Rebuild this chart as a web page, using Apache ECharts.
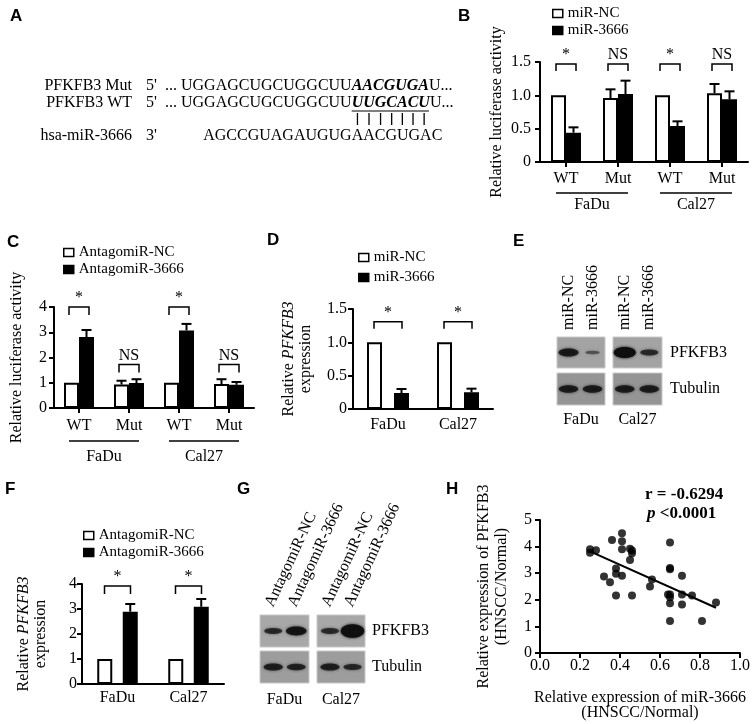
<!DOCTYPE html>
<html><head><meta charset="utf-8">
<script src="https://cdn.jsdelivr.net/npm/echarts@6/dist/echarts.min.js"></script>
<style>html,body{margin:0;padding:0;background:#fff;}#chart{width:753px;height:724px;}</style>
</head><body>
<div id="chart"></div>
<script>
// ---------------- data ----------------
// Panel A
const seqLabels = ['PFKFB3 Mut', 'PFKFB3 WT', 'hsa-miR-3666'];
const seqEnds = ["5'", "5'", "3'"];
const seqPrefix = '... UGGAGCUGCUGGCUU';
const seqSite = ['AACGUGA', 'UUGCACU'];
const seqSuffix = 'U...';
const mirSeq = 'AGCCGUAGAUGUGAACGUGAC';
const mirPairOffset = 13;

// Panel B
const bCats = ['WT', 'Mut', 'WT', 'Mut'];
const bGroups = ['FaDu', 'Cal27'];
const bNC = [1.0, 0.96, 1.0, 1.03];
const bNCErr = [0, 0.13, 0, 0.14];
const bMiR = [0.44, 1.02, 0.54, 0.94];
const bMiRErr = [0.08, 0.20, 0.07, 0.12];
const bSig = ['*', 'NS', '*', 'NS'];
const bSigLevel = [1.47, 1.47, 1.47, 1.47];

// Panel C
const cCats = ['WT', 'Mut', 'WT', 'Mut'];
const cGroups = ['FaDu', 'Cal27'];
const cNC = [1.0, 0.93, 1.0, 0.95];
const cNCErr = [0, 0.15, 0, 0.19];
const cAnta = [2.81, 0.99, 3.07, 0.92];
const cAntaErr = [0.28, 0.15, 0.26, 0.11];
const cSig = ['*', 'NS', '*', 'NS'];
const cSigLevel = [4.0, 1.72, 4.0, 1.72];

// Panel D
const dCats = ['FaDu', 'Cal27'];
const dNC = [1.0, 1.0];
const dMiR = [0.24, 0.25];
const dMiRErr = [0.06, 0.055];
const dSig = ['*', '*'];
const dSigLevel = [1.31, 1.31];

// Panel E
const eLanes = ['miR-NC', 'miR-3666', 'miR-NC', 'miR-3666'];
const eCells = ['FaDu', 'Cal27'];
const eProteins = ['PFKFB3', 'Tubulin'];
const eBandPFK = [0.8, 0.25, 1.0, 0.6];
const eBandTub = [0.75, 0.75, 0.75, 0.75];

// Panel F
const fCats = ['FaDu', 'Cal27'];
const fNC = [1.0, 1.0];
const fAnta = [2.89, 3.09];
const fAntaErr = [0.31, 0.31];
const fSig = ['*', '*'];
const fSigLevel = [3.92, 3.92];

// Panel G
const gLanes = ['AntagomiR-NC', 'AntagomiR-3666', 'AntagomiR-NC', 'AntagomiR-3666'];
const gCells = ['FaDu', 'Cal27'];
const gProteins = ['PFKFB3', 'Tubulin'];
const gBandPFK = [0.6, 0.85, 0.6, 1.15];
const gBandTub = [0.72, 0.68, 0.72, 0.62];

// Panel H
const hPoints = [
  [0.25, 3.90], [0.25, 3.77], [0.28, 3.86], [0.32, 2.88], [0.35, 2.66], [0.36, 4.25],
  [0.38, 3.18], [0.38, 2.98], [0.38, 2.16], [0.41, 4.50], [0.41, 4.20], [0.41, 3.90],
  [0.41, 2.90], [0.45, 3.92], [0.45, 3.50], [0.46, 3.85], [0.46, 3.75], [0.46, 2.16],
  [0.55, 2.50], [0.56, 2.76], [0.64, 2.20], [0.65, 4.15], [0.65, 3.20], [0.65, 3.15],
  [0.65, 2.20], [0.65, 2.10], [0.65, 1.87], [0.65, 1.20], [0.71, 2.90], [0.71, 2.20],
  [0.71, 1.82], [0.76, 2.16], [0.81, 1.20], [0.88, 1.90]
];
const hFit = [[0.25, 3.82], [0.88, 1.70]];
const hStatR = 'r = -0.6294';
const hStatP = ['p', ' <0.0001'];

const panelLetters = ['A', 'B', 'C', 'D', 'E', 'F', 'G', 'H'];

// ---------------- drawing ----------------
const FF = '"Liberation Serif","Times New Roman",serif';
const SANS = '"Liberation Sans",Arial,sans-serif';
const fN = '16px ' + FF;
const fBI = 'italic bold 16px ' + FF;

const mctx = document.createElement('canvas').getContext('2d');
function tw(t, font) { mctx.font = font; return mctx.measureText(t).width; }

function txt(t, x, y, font, align, vAlign, extra) {
  return Object.assign({
    type: 'text', x: x, y: y, silent: true,
    style: { text: t, font: font, fill: '#000', align: align, verticalAlign: vAlign, textAlign: align, textVerticalAlign: vAlign }
  }, extra || {});
}
function ln(x1, y1, x2, y2, w) {
  return { type: 'line', silent: true, shape: { x1, y1, x2, y2 }, style: { stroke: '#000', lineWidth: w || 1.5 } };
}

const graphics = [];

// panel letters
const letterPos = [[10, 8], [458, 8], [7, 234], [267, 232], [513, 233], [5, 481], [237, 481], [446, 481]];
panelLetters.forEach((L, i) => graphics.push(txt(L, letterPos[i][0], letterPos[i][1], 'bold 17px ' + SANS, 'left', 'top')));

// Panel A sequences
(function () {
  const xLab = 132, x5 = 146, xSeq = 165;
  const rowY = [86, 103, 119, 136];
  const wPre = tw(seqPrefix, fN);
  const siteX = xSeq + wPre;
  for (let r = 0; r < 2; r++) {
    graphics.push(txt(seqLabels[r], xLab, rowY[r], fN, 'right', 'middle'));
    graphics.push(txt(seqEnds[r], x5, rowY[r], fN, 'left', 'middle'));
    graphics.push(txt(seqPrefix, xSeq, rowY[r], fN, 'left', 'middle'));
    graphics.push(txt(seqSite[r], siteX, rowY[r], fBI, 'left', 'middle'));
    graphics.push(txt(seqSuffix, siteX + tw(seqSite[r], fBI), rowY[r], fN, 'left', 'middle'));
  }
  // underline WT site
  const wSite = tw(seqSite[1], fBI);
  graphics.push(ln(siteX, rowY[1] + 8, siteX + wSite - 1, rowY[1] + 8, 1.2));
  // pairing bars
  for (let k = 0; k < seqSite[1].length; k++) {
    const cx = siteX + tw(seqSite[1].slice(0, k), fBI) + tw(seqSite[1][k], fBI) / 2;
    graphics.push(ln(cx, rowY[2] - 6, cx, rowY[2] + 6, 1.3));
  }
  graphics.push(txt(seqLabels[2], xLab, rowY[3], fN, 'right', 'middle'));
  graphics.push(txt(seqEnds[2], x5, rowY[3], fN, 'left', 'middle'));
  const mirX = siteX - tw(mirSeq.slice(0, mirPairOffset), fN);
  graphics.push(txt(mirSeq, mirX, rowY[3], fN, 'left', 'middle'));
})();

// Western blots
function band(cx, cy, s) {
  const rx = 6 + 5 * s, ry = 1.5 + 4 * s * s;
  const a = Math.min(1, 0.3 + 0.7 * s);
  const col = 'rgba(15,15,15,' + a.toFixed(2) + ')';
  return { type: 'ellipse', silent: true, shape: { cx, cy, rx, ry }, style: { fill: col, shadowBlur: 3, shadowColor: col } };
}
function blotPanel(cfg) {
  // cfg: blots [{x,w}], rows [{y,h,bg}], laneFrac, bands [pfk[], tub[]], labels, proteins, cells
  cfg.blots.forEach((b, bi) => {
    cfg.rows.forEach((r, ri) => {
      graphics.push({ type: 'rect', silent: true, shape: { x: b.x, y: r.y, width: b.w, height: r.h },
        style: { fill: r.bg, stroke: '#c8c8c8', lineWidth: 1 } });
      const vals = cfg.bands[ri];
      cfg.laneFrac.forEach((f, li) => {
        const lane = bi * 2 + li;
        graphics.push(band(b.x + b.w * f, r.y + r.h / 2, vals[lane]));
      });
    });
  });
}

// Panel E
(function () {
  const blots = [{ x: 557, w: 48 }, { x: 613, w: 49 }];
  const rows = [{ y: 337, h: 31, bg: '#a3a3a3' }, { y: 373, h: 32, bg: '#959595' }];
  const laneFrac = [0.24, 0.74];
  blotPanel({ blots, rows, laneFrac, bands: [eBandPFK, eBandTub] });
  eLanes.forEach((t, i) => {
    const b = blots[Math.floor(i / 2)];
    const x = b.x + b.w * laneFrac[i % 2];
    graphics.push(txt(t, x, 330, fN, 'left', 'middle', { rotation: Math.PI / 2 }));
  });
  eProteins.forEach((p, i) => graphics.push(txt(p, 670, rows[i].y + rows[i].h / 2, fN, 'left', 'middle')));
  eCells.forEach((c, i) => graphics.push(txt(c, blots[i].x + blots[i].w / 2, 420, fN, 'center', 'middle')));
})();

// Panel G
(function () {
  const blots = [{ x: 260, w: 49 }, { x: 317, w: 48 }];
  const rows = [{ y: 615, h: 32, bg: '#a8a8a8' }, { y: 651, h: 32, bg: '#9d9d9d' }];
  const laneFrac = [0.27, 0.74];
  blotPanel({ blots, rows, laneFrac, bands: [gBandPFK, gBandTub] });
  gLanes.forEach((t, i) => {
    const b = blots[Math.floor(i / 2)];
    const x = b.x + b.w * laneFrac[i % 2];
    graphics.push(txt(t, x - 4, 606, fN, 'left', 'middle', { rotation: 65 * Math.PI / 180 }));
  });
  gProteins.forEach((p, i) => graphics.push(txt(p, 372, rows[i].y + rows[i].h / 2, fN, 'left', 'middle')));
  gCells.forEach((c, i) => graphics.push(txt(c, blots[i].x + blots[i].w / 2, 700, fN, 'center', 'middle')));
})();

// Panel H stats
(function () {
  const fB = 'bold 17px ' + FF;
  const fBIt = 'italic bold 17px ' + FF;
  graphics.push(txt(hStatR, 645, 495, fB, 'left', 'middle'));
  graphics.push(txt(hStatP[0], 647, 514, fBIt, 'left', 'middle'));
  graphics.push(txt(hStatP[1], 647 + tw(hStatP[0], fBIt), 514, fB, 'left', 'middle'));
})();

// ---------- chart helpers ----------
function baseAxis(extra) {
  return Object.assign({
    axisLine: { show: true, onZero: false, lineStyle: { color: '#000', width: 2 } },
    axisTick: { show: true, length: 5, lineStyle: { color: '#000', width: 2 } },
    axisLabel: { color: '#000', fontFamily: FF, fontSize: 16 },
    splitLine: { show: false }
  }, extra);
}
function catX(gi, cats, margin, ticks) {
  const a = baseAxis({ gridIndex: gi, type: 'category', data: cats });
  a.axisTick = { show: ticks, alignWithLabel: true, length: 5, lineStyle: { color: '#000', width: 2 } };
  a.axisLabel.margin = margin;
  return a;
}
function valY(gi, max, interval, name, nameGap, margin, fmt, lineH) {
  const a = baseAxis({ gridIndex: gi, type: 'value', min: 0, max: max, interval: interval });
  a.axisLabel.margin = margin;
  if (fmt) a.axisLabel.formatter = fmt;
  a.name = name; a.nameLocation = 'middle'; a.nameGap = nameGap; a.nameRotate = 90;
  a.nameTextStyle = { color: '#000', fontFamily: FF, fontSize: 16, lineHeight: lineH || 17,
    rich: { i: { fontStyle: 'italic', fontFamily: FF, fontSize: 16, color: '#000', lineHeight: lineH || 17 } } };
  return a;
}
const dec1 = v => (v === 0 ? '0' : v.toFixed(1));

function barSeries(name, gi, data, white, gap) {
  return { type: 'bar', name, xAxisIndex: gi, yAxisIndex: gi, data, barWidth: 15, barGap: gap,
    itemStyle: { color: white ? '#fff' : '#000', borderColor: '#000', borderWidth: 2 }, silent: true, z: 2 };
}
function errSeries(gi, vals, errs, offsetPx, capHalf) {
  return {
    type: 'custom', xAxisIndex: gi, yAxisIndex: gi, silent: true, z: 3,
    data: vals.map((v, i) => [i, v, v + errs[i]]),
    renderItem(params, api) {
      if (!(api.value(2) > api.value(1))) return null;
      const i = api.value(0);
      const lo = api.coord([i, api.value(1)]);
      const hi = api.coord([i, api.value(2)]);
      const x = lo[0] + offsetPx;
      return { type: 'group', children: [
        { type: 'line', shape: { x1: x, y1: lo[1], x2: x, y2: hi[1] }, style: { stroke: '#000', lineWidth: 2 } },
        { type: 'line', shape: { x1: x - capHalf, y1: hi[1], x2: x + capHalf, y2: hi[1] }, style: { stroke: '#000', lineWidth: 2 } }
      ] };
    }
  };
}
function sigSeries(gi, levels, labels, halfSpan, legPx) {
  return {
    type: 'custom', xAxisIndex: gi, yAxisIndex: gi, silent: true, z: 4,
    data: levels.map((l, i) => [i, l]),
    renderItem(params, api) {
      const p = api.coord([api.value(0), api.value(1)]);
      const lab = labels[params.dataIndex];
      const x1 = p[0] - halfSpan, x2 = p[0] + halfSpan, y = p[1];
      return { type: 'group', children: [
        { type: 'polyline', shape: { points: [[x1, y + legPx], [x1, y], [x2, y], [x2, y + legPx]] },
          style: { stroke: '#000', lineWidth: 1.5, fill: null } },
        { type: 'text', x: p[0], y: y - 1,
          style: { text: lab, font: '16px ' + FF, fill: '#000', align: 'center', verticalAlign: 'bottom', textAlign: 'center', textVerticalAlign: 'bottom' } }
      ] };
    }
  };
}
function groupSeries(gi, groups, lineOff, textOff, ext) {
  return {
    type: 'custom', xAxisIndex: gi, yAxisIndex: gi, silent: true, z: 4,
    data: groups.map((g, k) => [2 * k, 2 * k + 1]),
    renderItem(params, api) {
      const a = api.coord([api.value(0), 0]);
      const b = api.coord([api.value(1), 0]);
      const y0 = a[1];
      return { type: 'group', children: [
        { type: 'line', shape: { x1: a[0] - ext, y1: y0 + lineOff, x2: b[0] + ext, y2: y0 + lineOff }, style: { stroke: '#000', lineWidth: 1.3 } },
        { type: 'text', x: (a[0] + b[0]) / 2, y: y0 + textOff,
          style: { text: groups[params.dataIndex], font: '16px ' + FF, fill: '#000', align: 'center', verticalAlign: 'middle', textAlign: 'center', textVerticalAlign: 'middle' } }
      ] };
    }
  };
}
function legendAt(left, top, names, gap) {
  return { left, top, orient: 'vertical', padding: 0, itemGap: gap, itemWidth: 10, itemHeight: 8, icon: 'rect',
    selectedMode: false, data: names,
    itemStyle: { borderColor: '#000', borderWidth: 1.5 },
    textStyle: { fontFamily: FF, fontSize: 15, color: '#000', lineHeight: 15, padding: [0, 0, 0, 0] } };
}

const hX = baseAxis({ gridIndex: 4, type: 'value', min: 0, max: 1, interval: 0.2 });
hX.axisLabel.formatter = v => v.toFixed(1);
hX.axisLabel.margin = 5;
hX.name = 'Relative expression of miR-3666\n(HNSCC/Normal)';
hX.nameLocation = 'middle'; hX.nameGap = 37;
hX.nameTextStyle = { color: '#000', fontFamily: FF, fontSize: 16, lineHeight: 15 };

const option = {
  animation: false,
  backgroundColor: '#fff',
  textStyle: { fontFamily: FF },
  grid: [
    { left: 540, top: 62, width: 208, height: 100 },
    { left: 54, top: 307, width: 200, height: 101 },
    { left: 353, top: 309, width: 140, height: 100 },
    { left: 82, top: 584, width: 142, height: 100 },
    { left: 540, top: 520, width: 202, height: 133 }
  ],
  xAxis: [
    catX(0, bCats, 9, true),
    catX(1, cCats, 10, true),
    catX(2, dCats, 8, false),
    catX(3, fCats, 6, false),
    hX
  ],
  yAxis: [
    valY(0, 1.5, 0.5, 'Relative luciferase activity', 35, 9, dec1),
    valY(1, 4, 1, 'Relative luciferase activity', 29, 7),
    valY(2, 1.5, 0.5, 'Relative {i|PFKFB3}\nexpression', 39, 6, dec1),
    valY(3, 4, 1, 'Relative {i|PFKFB3}\nexpression', 33, 5),
    valY(4, 5, 1, 'Relative expression of PFKFB3\n(HNSCC/Normal)', 29, 8, null, 18)
  ],
  legend: [
    legendAt(552, 6, ['miR-NC', 'miR-3666'], 2),
    legendAt(63, 245, ['AntagomiR-NC', 'AntagomiR-3666'], 2),
    legendAt(358, 250, ['miR-NC', 'miR-3666'], 5),
    legendAt(83, 528, ['AntagomiR-NC', 'AntagomiR-3666'], 2)
  ],
  series: [
    barSeries('miR-NC', 0, bNC, true, '0%'),
    barSeries('miR-3666', 0, bMiR, false, '0%'),
    errSeries(0, bNC, bNCErr, -7.5, 5),
    errSeries(0, bMiR, bMiRErr, 7.5, 5),
    sigSeries(0, bSigLevel, bSig, 10, 7),
    groupSeries(0, bGroups, 31, 43, 10),

    barSeries('AntagomiR-NC', 1, cNC, true, '0%'),
    barSeries('AntagomiR-3666', 1, cAnta, false, '0%'),
    errSeries(1, cNC, cNCErr, -7.5, 5),
    errSeries(1, cAnta, cAntaErr, 7.5, 5),
    sigSeries(1, cSigLevel, cSig, 10, 8),
    groupSeries(1, cGroups, 33, 49, 10),

    barSeries('miR-NC', 2, dNC, true, '80%'),
    barSeries('miR-3666', 2, dMiR, false, '80%'),
    errSeries(2, dMiR, dMiRErr, 13.5, 5),
    sigSeries(2, dSigLevel, dSig, 14, 7),

    barSeries('AntagomiR-NC', 3, fNC, true, '70%'),
    barSeries('AntagomiR-3666', 3, fAnta, false, '70%'),
    errSeries(3, fAnta, fAntaErr, 12.75, 5),
    sigSeries(3, fSigLevel, fSig, 13, 8),

    { type: 'scatter', xAxisIndex: 4, yAxisIndex: 4, data: hPoints, symbolSize: 8, itemStyle: { color: '#000' }, silent: true, z: 3 },
    { type: 'line', xAxisIndex: 4, yAxisIndex: 4, data: hFit, symbol: 'none', lineStyle: { color: '#000', width: 2 }, silent: true, z: 2 }
  ],
  graphic: { elements: graphics }
};

const chart = echarts.init(document.getElementById('chart'), null, { renderer: 'canvas', width: 753, height: 724 });
chart.setOption(option);
</script>
</body></html>
